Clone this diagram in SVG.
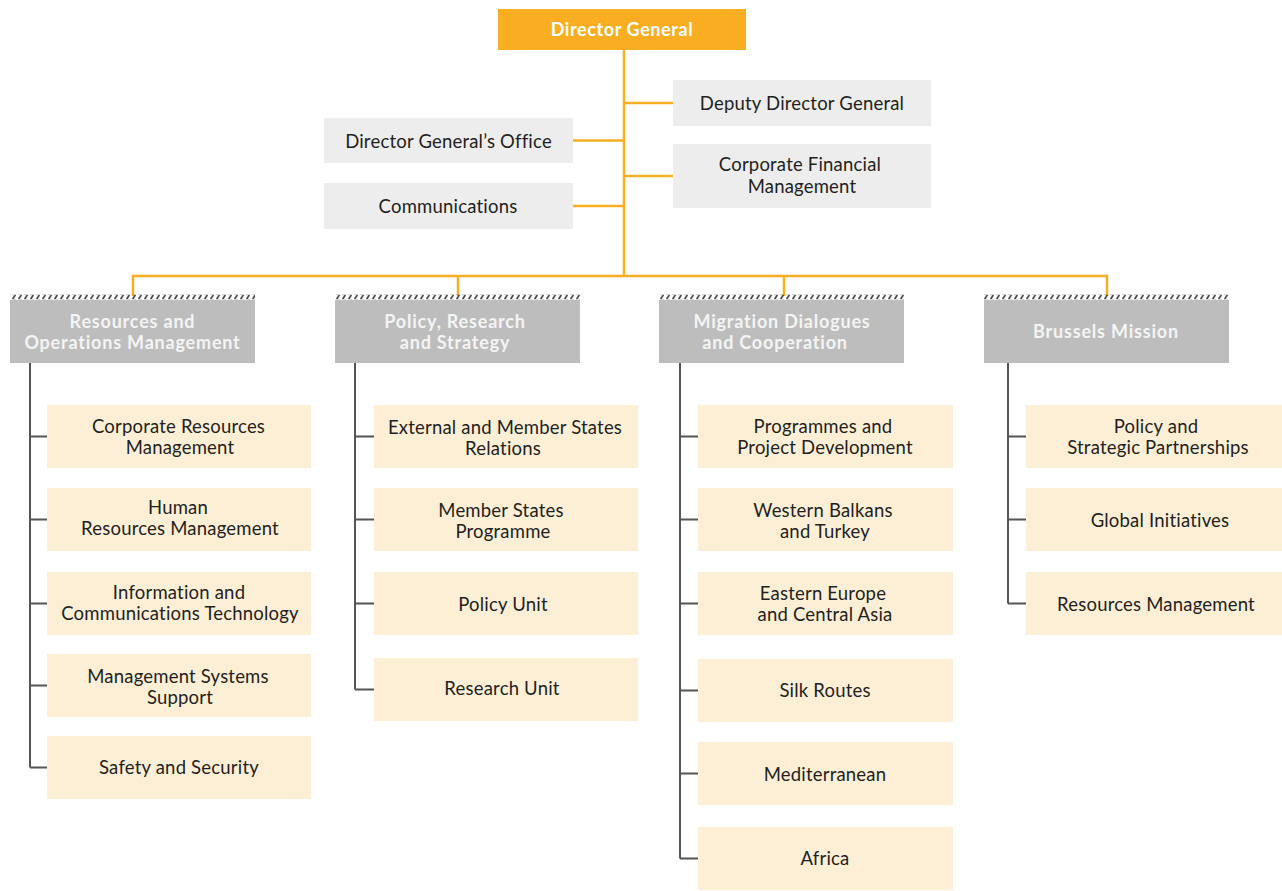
<svg xmlns="http://www.w3.org/2000/svg" width="1282" height="891" viewBox="0 0 1282 891">
<style>
text{font-family:Lato,"Open Sans","Liberation Sans",sans-serif;text-anchor:middle;transform:translateY(1px)}
.t{font-size:18.5px;letter-spacing:0.2px;fill:#231F20}
.h{font-size:18px;letter-spacing:0.8px;font-weight:bold;fill:#F4F4F4}
.dg{font-size:18px;letter-spacing:0.6px;font-weight:bold;fill:#FFFFFF}
.top{fill:#EDEDED}
.hdr{fill:#BDBDBD}
.child{fill:#FDEFD6}
.oc{stroke:#F9AE21;stroke-width:2.5;fill:none}
.gc{stroke:#555555;stroke-width:2;fill:none}
.hatch{fill:url(#hp)}
</style>
<defs>
<pattern id="hp" patternUnits="userSpaceOnUse" x="0" y="294.5" width="6" height="5">
<path d="M0.5,5 L3.5,0" stroke="#3a3a3a" stroke-width="1.6"/>
</pattern>
</defs>
<rect width="1282" height="891" fill="#FFFFFF"/>
<g id="connectors">
<path class="oc" d="M624,50 V276 M624,103 H673 M624,176 H673 M573,140.5 H624 M573,206 H624 M133,296 V276 H1107 V296 M458,276 V296 M784,276 V296"/>
<path class="gc" d="M30,363 V767.5 M30,436.5 H47 M30,519.5 H47 M30,603.5 H47 M30,685.5 H47 M30,767.5 H47"/>
<path class="gc" d="M355,363 V689.5 M355,436.5 H374 M355,519.5 H374 M355,603.5 H374 M355,689.5 H374"/>
<path class="gc" d="M680,363 V858.5 M680,436.5 H698 M680,519.5 H698 M680,603.5 H698 M680,690.5 H698 M680,773.5 H698 M680,858.5 H698"/>
<path class="gc" d="M1008,363 V603.5 M1008,436.5 H1026 M1008,519.5 H1026 M1008,603.5 H1026"/>
</g>
<g id="director-general"><rect x="498" y="9" width="248" height="41" fill="#F9AE21"/><text class="dg" x="622" y="35">Director General</text></g>
<g id="deputy-director-general"><rect class="top" x="673" y="80" width="258" height="46"/><text class="t" x="802" y="109">Deputy Director General</text></g>
<g id="corporate-financial-management"><rect class="top" x="673" y="144" width="258" height="64"/><text class="t" x="800" y="170">Corporate Financial</text><text class="t" x="802" y="191.5">Management</text></g>
<g id="dg-office"><rect class="top" x="324" y="118" width="249" height="45"/><text class="t" x="448.5" y="146.5">Director General’s Office</text></g>
<g id="communications"><rect class="top" x="324" y="183" width="249" height="46"/><text class="t" x="448" y="212">Communications</text></g>

<g id="resources-operations"><rect class="hatch" x="10" y="294.5" width="245" height="5"/><rect class="hdr" x="10" y="300" width="245" height="63"/><text class="h" x="132.5" y="327">Resources and</text><text class="h" x="132.5" y="348">Operations Management</text></g>
<g id="policy-research-strategy"><rect class="hatch" x="335" y="294.5" width="245" height="5"/><rect class="hdr" x="335" y="300" width="245" height="63"/><text class="h" x="455" y="327">Policy, Research</text><text class="h" x="455" y="348">and Strategy</text></g>
<g id="migration-dialogues"><rect class="hatch" x="659" y="294.5" width="245" height="5"/><rect class="hdr" x="659" y="300" width="245" height="63"/><text class="h" x="782" y="327">Migration Dialogues</text><text class="h" x="775" y="348">and Cooperation</text></g>
<g id="brussels-mission"><rect class="hatch" x="984" y="294.5" width="245" height="5"/><rect class="hdr" x="984" y="300" width="245" height="63"/><text class="h" x="1106" y="337">Brussels Mission</text></g>

<g id="corporate-resources-management"><rect class="child" x="47" y="405" width="264" height="63"/><text class="t" x="178.5" y="432">Corporate Resources</text><text class="t" x="180" y="453">Management</text></g>
<g id="human-resources-management"><rect class="child" x="47" y="488" width="264" height="63"/><text class="t" x="178" y="513">Human</text><text class="t" x="180" y="534">Resources Management</text></g>
<g id="ict"><rect class="child" x="47" y="572" width="264" height="63"/><text class="t" x="179" y="598">Information and</text><text class="t" x="180" y="619">Communications Technology</text></g>
<g id="management-systems-support"><rect class="child" x="47" y="654" width="264" height="63"/><text class="t" x="178" y="682">Management Systems</text><text class="t" x="180" y="703">Support</text></g>
<g id="safety-security"><rect class="child" x="47" y="736" width="264" height="63"/><text class="t" x="179" y="773">Safety and Security</text></g>

<g id="external-member-states"><rect class="child" x="374" y="405" width="264" height="63"/><text class="t" x="505" y="433">External and Member States</text><text class="t" x="503" y="454">Relations</text></g>
<g id="member-states-programme"><rect class="child" x="374" y="488" width="264" height="63"/><text class="t" x="501" y="516">Member States</text><text class="t" x="503" y="537">Programme</text></g>
<g id="policy-unit"><rect class="child" x="374" y="572" width="264" height="63"/><text class="t" x="503" y="610">Policy Unit</text></g>
<g id="research-unit"><rect class="child" x="374" y="658" width="264" height="63"/><text class="t" x="502" y="694">Research Unit</text></g>

<g id="programmes-project-development"><rect class="child" x="698" y="405" width="255" height="63"/><text class="t" x="823" y="432">Programmes and</text><text class="t" x="825" y="453">Project Development</text></g>
<g id="western-balkans-turkey"><rect class="child" x="698" y="488" width="255" height="63"/><text class="t" x="823" y="516">Western Balkans</text><text class="t" x="825" y="537">and Turkey</text></g>
<g id="eastern-europe-central-asia"><rect class="child" x="698" y="572" width="255" height="63"/><text class="t" x="823" y="599">Eastern Europe</text><text class="t" x="825" y="620">and Central Asia</text></g>
<g id="silk-routes"><rect class="child" x="698" y="659" width="255" height="63"/><text class="t" x="825" y="696">Silk Routes</text></g>
<g id="mediterranean"><rect class="child" x="698" y="742" width="255" height="63"/><text class="t" x="825" y="780">Mediterranean</text></g>
<g id="africa"><rect class="child" x="698" y="827" width="255" height="63"/><text class="t" x="825" y="864">Africa</text></g>

<g id="policy-strategic-partnerships"><rect class="child" x="1026" y="405" width="256" height="63"/><text class="t" x="1156" y="432">Policy and</text><text class="t" x="1158" y="453">Strategic Partnerships</text></g>
<g id="global-initiatives"><rect class="child" x="1026" y="488" width="256" height="63"/><text class="t" x="1160" y="526">Global Initiatives</text></g>
<g id="resources-management"><rect class="child" x="1026" y="572" width="256" height="63"/><text class="t" x="1156" y="610">Resources Management</text></g>
</svg>
